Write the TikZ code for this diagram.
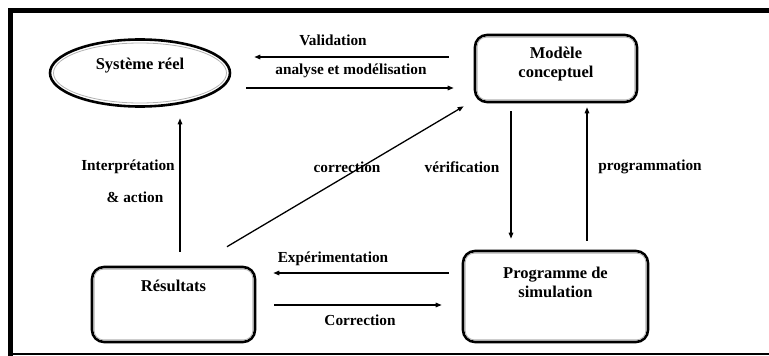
\documentclass[tikz,border=0pt]{standalone}
\usepackage{fontspec}
\setmainfont{Liberation Serif}
\usetikzlibrary{shapes.geometric,arrows.meta,calc}
\tikzset{
  box/.style={draw=black, line width=2.6pt, rounded corners=12pt, inner sep=0pt},
  sysshape/.style={draw=black, ellipse, line width=2.6pt, inner sep=0pt},
  boxtxt/.style={font=\fontsize{16.5}{19}\selectfont\bfseries, align=center, inner sep=0pt},
  lbl/.style={font=\fontsize{15.3}{18}\selectfont\bfseries, inner sep=0pt},
  conn/.style={line width=1.3pt, -{Triangle[length=6pt,width=4.5pt]}},
  plain/.style={line width=1.3pt},
  inner/.style={draw=gray!60, line width=0.8pt}
}
\begin{document}
\begin{tikzpicture}[x=1pt,y=-1pt]
\useasboundingbox (0,0) rectangle (769,356);
% frame
\draw[line width=5pt] (775,10.5) -- (10.5,10.5) -- (10.5,356);
\draw[line width=2.6pt] (8,354) -- (775,354);
% nodes
\node[sysshape, minimum width=180pt, minimum height=67pt] (sys) at (140,73) {};
\draw[inner] (sys.center) ellipse [x radius=86.5pt, y radius=30pt];
\node[boxtxt] (systxt) at (140,66) {Système réel};

\node[box, minimum width=162pt, minimum height=67pt] (mod) at (556,68.5) {};
\draw[inner, rounded corners=9pt] ([shift={(3.5pt,3.5pt)}]mod.south west) rectangle ([shift={(-3.5pt,-3.5pt)}]mod.north east);
\node[boxtxt] (modtxt) at (556,64) {Modèle\\conceptuel};

\node[box, minimum width=163pt, minimum height=75pt] (res) at (173.5,304.5) {};
\draw[inner, rounded corners=9pt] ([shift={(3.5pt,3.5pt)}]res.south west) rectangle ([shift={(-3.5pt,-3.5pt)}]res.north east);
\node[boxtxt] (restxt) at (173.5,286) {Résultats};

\node[box, minimum width=185pt, minimum height=91pt] (prog) at (555.5,296.5) {};
\draw[inner, rounded corners=9pt] ([shift={(3.5pt,3.5pt)}]prog.south west) rectangle ([shift={(-3.5pt,-3.5pt)}]prog.north east);
\node[boxtxt] (progtxt) at (555.5,282) {Programme de\\simulation};

% connectors
\draw[conn] ($(mod.west)+(-25,-11.5)$) -- ($(sys.east)+(23,-16)$);
\draw[conn] ($(sys.east)+(15,15)$) -- ($(mod.west)+(-20,19.5)$);
\draw[conn] ($(res.north)+(53.5,-19)$) -- ($(mod.south west)+(-10,3)$);
\draw[conn] ($(res.north)+(6.5,-14)$) -- ($(sys.south)+(40,10.5)$);
\draw[conn] ($(mod.south)+(-45,8)$) -- ($(prog.north)+(-44.5,-11)$);
\draw[conn] ($(prog.north)+(31.5,-9)$) -- ($(mod.south)+(31,4)$);
\draw[conn] ($(prog.west)+(-13,-23.5)$) -- ($(res.east)+(17,-31.5)$);
\draw[conn] ($(res.east)+(18,0.5)$) -- ($(prog.west)+(-20,8.5)$);

% labels
\node[lbl] (l1) at (333,40) {Validation};
\node[lbl] (l2) at (351,71) {analyse et modélisation};
\node[lbl] (l3) at (347,167) {correction};
\node[lbl] (l4) at (128,167) {Interprétation};
\node[lbl] (l5) at (135,197) {\& action};
\node[lbl] (l6) at (462,167) {vérification};
\node[lbl] (l7) at (650,167) {programmation};
\node[lbl] (l8) at (333,259) {Expérimentation};
\node[lbl] (l9) at (360,320) {Correction};
\end{tikzpicture}
\end{document}
